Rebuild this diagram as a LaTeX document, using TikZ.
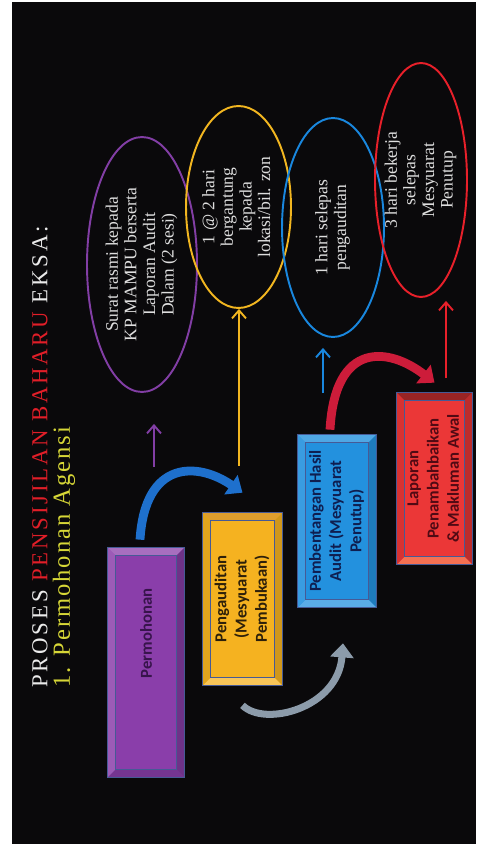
\documentclass[tikz,border=0pt]{standalone}
\usepackage{fontspec}
\usepackage{graphicx}
\setmainfont{Liberation Serif}
\newfontfamily\boxfont{Carlito}
\usetikzlibrary{shapes.geometric, arrows.meta, calc}
\definecolor{slidebg}{RGB}{10,9,11}
\definecolor{titlewhite}{RGB}{235,235,235}
\definecolor{titlered}{RGB}{225,30,40}
\definecolor{subyellow}{RGB}{215,215,55}
\definecolor{ovalgrey}{RGB}{222,222,222}
\definecolor{accpurple}{RGB}{130,62,165}
\definecolor{accyellow}{RGB}{242,182,32}
\definecolor{accblue}{RGB}{25,135,222}
\definecolor{accred}{RGB}{232,32,42}
\definecolor{boxedge}{RGB}{70,90,150}
% box faces
\definecolor{permfill}{RGB}{138,62,170}
\definecolor{pengfill}{RGB}{245,178,32}
\definecolor{pembfill}{RGB}{35,145,222}
\definecolor{lapfill}{RGB}{235,55,55}
\definecolor{permtext}{RGB}{55,20,75}
\definecolor{pengtext}{RGB}{45,32,10}
\definecolor{pembtext}{RGB}{15,30,80}
\definecolor{laptext}{RGB}{80,10,20}
\definecolor{greyarrow}{RGB}{140,155,170}
\definecolor{bluearrow}{RGB}{30,112,205}
\definecolor{redarrow}{RGB}{205,28,58}

\newcommand{\vtext}[1]{\rotatebox{90}{\begin{tabular}{@{}c@{}}#1\end{tabular}}}
% bevel round a box: node, top, bottom, left, right
\newcommand{\bevel}[5]{%
  \fill[#2] (#1.north west) -- (#1.north east) -- ($(#1.north east)+(-8,8)$) -- ($(#1.north west)+(8,8)$) -- cycle;
  \fill[#3] (#1.south west) -- (#1.south east) -- ($(#1.south east)+(-8,-8)$) -- ($(#1.south west)+(8,-8)$) -- cycle;
  \fill[#4] (#1.north west) -- (#1.south west) -- ($(#1.south west)+(8,-8)$) -- ($(#1.north west)+(8,8)$) -- cycle;
  \fill[#5] (#1.north east) -- (#1.south east) -- ($(#1.south east)+(-8,-8)$) -- ($(#1.north east)+(-8,8)$) -- cycle;
  \draw[boxedge, line width=0.4pt] ($(#1.north west)+(8,8)$) rectangle ($(#1.south east)+(-8,-8)$);
  \draw[boxedge, line width=0.5pt] (#1.north west) rectangle (#1.south east);
}

\tikzset{
  box/.style={rectangle, inner sep=0pt, font=\boxfont\bfseries\fontsize{9.5}{11.5}\selectfont},
  oval/.style={ellipse, inner sep=0pt, line width=1.1pt},
  ovaltext/.style={inner sep=0pt, text=ovalgrey, font=\fontsize{10}{10.6}\selectfont},
  thinarrow/.style={line width=1.1pt, -{Straight Barb[length=1.6mm,width=2.8mm]}},
  bendarrow/.style={line width=#1, -{Triangle[length=8pt,width=13pt]}}
}

\begin{document}
\begin{tikzpicture}[x=0.02cm, y=-0.02cm]
\useasboundingbox (0,0) rectangle (477,847);
\fill[white] (0,0) rectangle (477,847);
\fill[slidebg] (12,2) rectangle (476,844);

% title
\node[anchor=west, rotate=90, inner sep=0pt, text=titlewhite, font=\fontsize{13}{15}\selectfont\addfontfeatures{LetterSpace=12}] (title) at (40,688) {PROSES \textcolor{titlered}{PENSIJILAN BAHARU} EKSA:};
\node[anchor=west, rotate=90, inner sep=0pt, text=subyellow, font=\fontsize{14}{16}\selectfont\addfontfeatures{LetterSpace=8}] (subtitle) at (64,688) {1. Permohonan Agensi};

% boxes
\node[box, fill=permfill, text=permtext, minimum width=1.52cm, minimum height=4.58cm] (perm) at (146,662.5) {\rotatebox{90}{\hspace{1.16cm}Permohonan}};
\bevel{perm}{permfill!75!white}{permfill!85!black}{permfill!85!white}{permfill!80!black}
\node[box, fill=pengfill, text=pengtext, minimum width=1.58cm, minimum height=3.44cm] (peng) at (242.5,599) {\vtext{Pengauditan\\(Mesyuarat\\Pembukaan)}};
\bevel{peng}{pengfill!60!brown}{pengfill!75!white}{pengfill!92!black}{pengfill!85!black}
\node[box, fill=pembfill, text=pembtext, minimum width=1.56cm, minimum height=3.44cm] (pemb) at (337,521) {\vtext{Pembentangan Hasil\\Audit (Mesyuarat\\Penutup)}};
\bevel{pemb}{pembfill!80!white}{pembfill!75!white}{pembfill!90!white}{pembfill!85!black}
\node[box, fill=lapfill, text=laptext, minimum width=1.5cm, minimum height=3.42cm] (lap) at (434.5,478.5) {\vtext{Laporan\\Penambahbaikan\\\& Makluman Awal}};
\bevel{lap}{lapfill!65!black}{lapfill!70!orange!80!white}{lapfill!92!black}{lapfill!80!black}

% ovals
\node[oval, draw=accpurple, minimum width=2.2cm, minimum height=5.1cm] (elA) at (142,264.5) {};
\node[ovaltext] (elAtext) at (elA) {\vtext{Surat rasmi kepada\\KP MAMPU berserta\\Laporan Audit\\Dalam (2 sesi)}};
\node[oval, draw=accyellow, minimum width=2.1cm, minimum height=4.04cm] (elB) at (238.5,207) {};
\node[ovaltext] (elBtext) at (elB) {\vtext{1 @ 2 hari\\bergantung\\kepada\\lokasi/bil. zon}};
\node[oval, draw=accblue, minimum width=2.04cm, minimum height=4.38cm] (elC) at (333,227.5) {};
\node[ovaltext] (elCtext) at (elC) {\vtext{1 hari selepas\\pengauditan}};
\node[oval, draw=accred, minimum width=1.84cm, minimum height=4.68cm] (elD) at (421,180) {};
\node[ovaltext] (elDtext) at (elD) {\vtext{3 hari bekerja\\selepas\\Mesyuarat\\Penutup}};

% straight arrows to the ovals
\coordinate (pfoot) at (154,467);
\coordinate (yfoot) at (239,466);
\coordinate (bfoot) at (323,393);
\coordinate (rfoot) at (446,378);
\draw[thinarrow, accpurple, shorten >=0.62cm] (pfoot) -- (pfoot |- elA.south);
\draw[thinarrow, accyellow] (yfoot) -- (yfoot |- elB.south);
\draw[thinarrow, accblue, shorten >=0.2cm] (bfoot) -- (bfoot |- elC.south);
\draw[thinarrow, accred, shorten >=0.06cm] (rfoot) -- (rfoot |- elD.south);

% bent arrows between the boxes
\draw[bendarrow=5pt, bluearrow] ([xshift=-0.12cm, yshift=0.16cm]perm.north) .. controls +(5,-80) and +(-45,-31) .. ([yshift=0.4cm]peng.north);
\draw[bendarrow=4pt, greyarrow] ([yshift=-0.4cm]peng.south) .. controls +(22,22) and +(-5,65) .. ([xshift=0.12cm, yshift=-0.72cm]pemb.south);
\draw[bendarrow=5pt, redarrow] ([xshift=-0.14cm, yshift=0.1cm]pemb.north) .. controls +(5,-90) and +(-45,-35) .. ([yshift=0.2cm]lap.north);
\end{tikzpicture}
\end{document}
